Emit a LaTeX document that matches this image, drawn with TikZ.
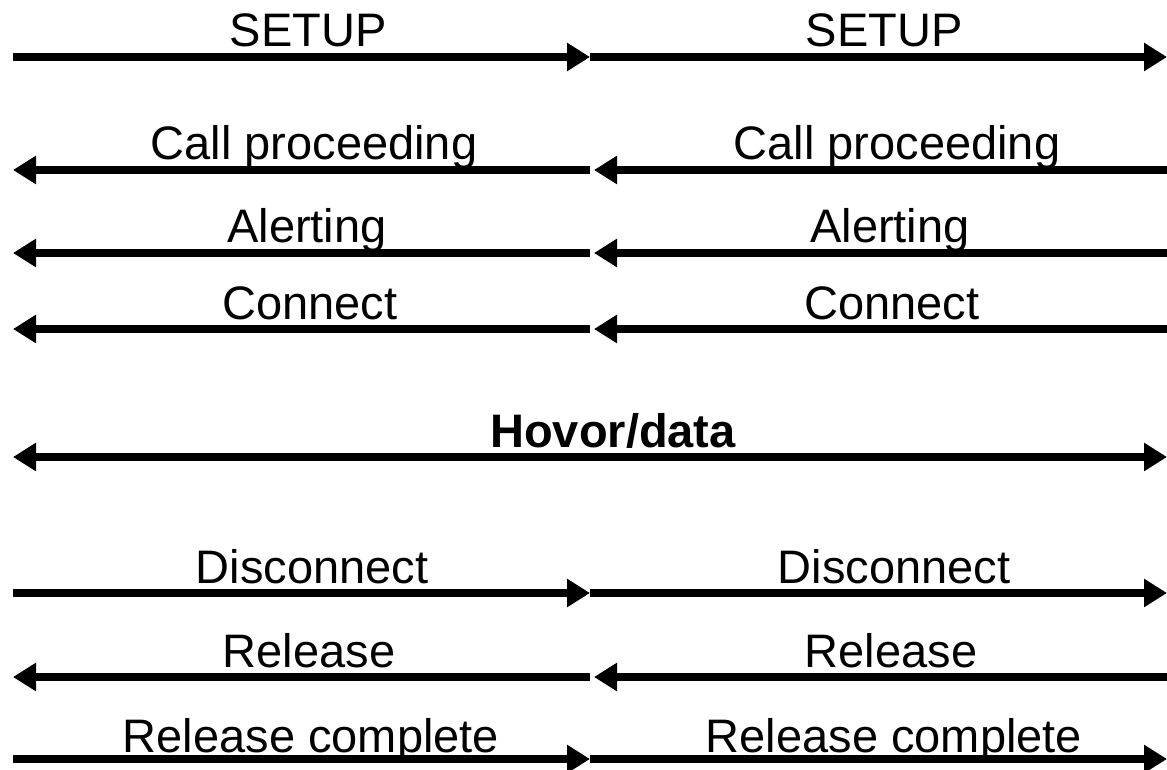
\documentclass[tikz,border=0pt]{standalone}
\usepackage{fontspec}
\setmainfont{Liberation Sans}
\usetikzlibrary{arrows.meta}
\tikzset{
  msg/.style={line width=7.5pt, -{Triangle[length=23pt,width=27pt]}},
  bimsg/.style={line width=7.5pt, {Triangle[length=23pt,width=27pt]}-{Triangle[length=23pt,width=27pt]}},
  lbl/.style={anchor=base, inner sep=0pt, font=\fontsize{47}{56}\selectfont},
  blbl/.style={lbl, font=\fontsize{47}{56}\selectfont\bfseries}
}
\begin{document}
\begin{tikzpicture}[x=1pt,y=-1pt]
\useasboundingbox[fill=white] (0,0) rectangle (1167,770);
% row coordinates
\foreach \n/\y in {a/57,b/170,c/253,d/329,e/457,f/593,g/677,h/759}{
  \coordinate (\n L) at (13,\y);
  \coordinate (\n M) at (590,\y);
  \coordinate (\n N) at (594,\y);
  \coordinate (\n R) at (1167,\y);
}
% labels
\node[lbl] (a1) at (308,47) {SETUP};
\node[lbl] (a2) at (884,47) {SETUP};
\node[lbl] (b1) at (314,160) {Call proceeding};
\node[lbl] (b2) at (897,160) {Call proceeding};
\node[lbl] (c1) at (307,243) {Alerting};
\node[lbl] (c2) at (890,243) {Alerting};
\node[lbl] (d1) at (310,319) {Connect};
\node[lbl] (d2) at (892,319) {Connect};
\node[blbl] (e1) at (613,447) {Hovor/data};
\node[lbl] (f1) at (312,583) {Disconnect};
\node[lbl] (f2) at (894,583) {Disconnect};
\node[lbl] (g1) at (309,667) {Release};
\node[lbl] (g2) at (891,667) {Release};
\node[lbl] (h1) at (311,752) {Release complete};
\node[lbl] (h2) at (894,752) {Release complete};
% arrows
\draw[msg] (aL) -- (aM);
\draw[msg] (aM) -- (aR);
\draw[msg] (bM) -- (bL);
\draw[msg] (bR) -- (bN);
\draw[msg] (cM) -- (cL);
\draw[msg] (cR) -- (cN);
\draw[msg] (dM) -- (dL);
\draw[msg] (dR) -- (dN);
\draw[bimsg] (eL) -- (eR);
\draw[msg] (fL) -- (fM);
\draw[msg] (fM) -- (fR);
\draw[msg] (gM) -- (gL);
\draw[msg] (gR) -- (gN);
\draw[msg] (hL) -- (hM);
\draw[msg] (hM) -- (hR);
\end{tikzpicture}
\end{document}
